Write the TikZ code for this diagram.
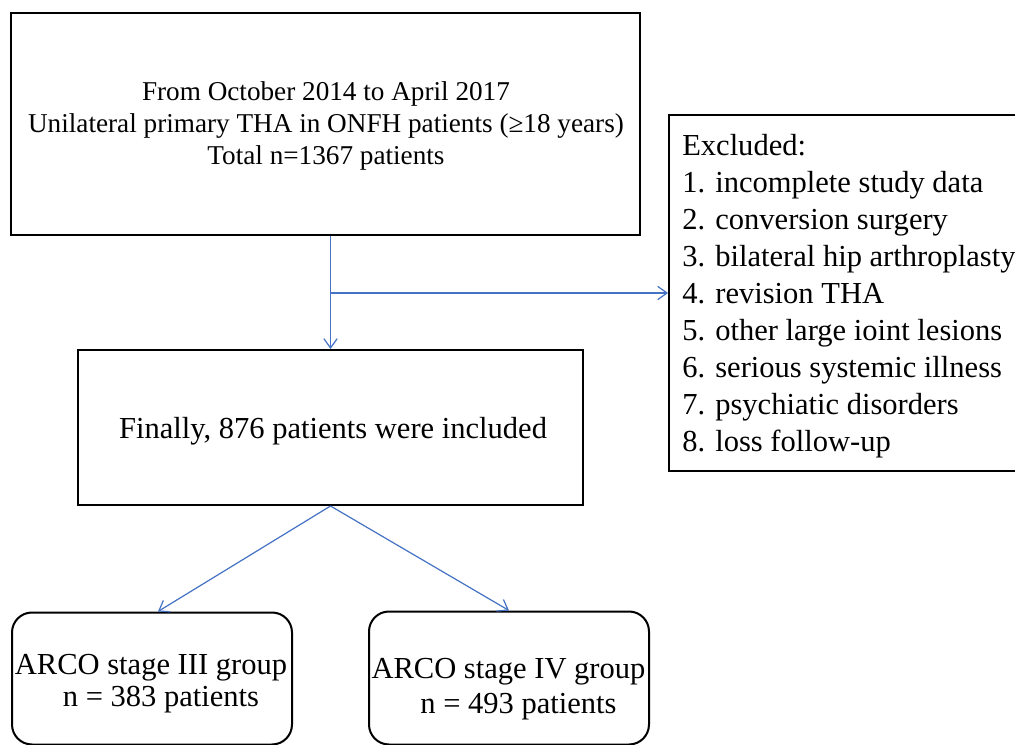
\documentclass[tikz,border=0pt]{standalone}
\usepackage{fontspec}
\setmainfont{Liberation Serif}
\usetikzlibrary{arrows.meta}
\definecolor{arrowblue}{RGB}{68,114,196}
\tikzset{
  box/.style={draw=black, line width=1.5pt, rectangle, inner sep=0pt},
  rbox/.style={box, rounded corners=15pt},
  txt/.style={inner sep=0pt, align=center, text=black},
  conn/.style={draw=arrowblue, line width=0.9pt, -{Straight Barb[length=7pt,width=10pt,line width=0.9pt]}},
  plainconn/.style={draw=arrowblue, line width=0.9pt}
}
\begin{document}
\begin{tikzpicture}[x=0.75pt,y=-0.75pt]
\useasboundingbox (0,0) rectangle (1015,745);
\clip (0,0) rectangle (1015,745);
\fill[white] (0,0) rectangle (1015,745);

% boxes
\node[box, minimum width=471.75pt, minimum height=166.5pt] (top) at (325.5,124) {};
\node[box, minimum width=378.75pt, minimum height=116.25pt] (mid) at (330.5,427.5) {};
\node[box, minimum width=270.75pt, minimum height=267pt] (excl) at (849.5,293) {};
\node[rbox, minimum width=210pt, minimum height=99pt] (g3) at (152,678.5) {};
\node[rbox, minimum width=210pt, minimum height=99.75pt] (g4) at (509,678) {};

% texts
\node[txt, font=\fontsize{20.4pt}{24pt}\selectfont] (toptxt) at (326,125.5)
  {From October 2014 to April 2017\\Unilateral primary THA in ONFH patients (≥18 years)\\Total n=1367 patients};
\node[txt, font=\fontsize{22.9pt}{27.75pt}\selectfont] (midtxt) at (333,431)
  {Finally, 876 patients were included};
\node[txt, anchor=west, align=left, font=\fontsize{22.9pt}{27.75pt}\selectfont] (excltxt) at (682,296)
  {Excluded:\\1. incomplete study data\\2. conversion surgery\\3. bilateral hip arthroplasty\\4. revision THA\\5. other large ioint lesions\\6. serious systemic illness\\7. psychiatic disorders\\8. loss follow-up};
\node[txt, font=\fontsize{22.9pt}{24pt}\selectfont] (g3txt) at (151,684)
  {ARCO stage III group\\\hspace*{15pt}n = 383 patients};
\node[txt, font=\fontsize{22.9pt}{26.25pt}\selectfont] (g4txt) at (508.5,689)
  {ARCO stage IV group\\\hspace*{15pt}n = 493 patients};

% connectors
\coordinate (branch) at (mid.north |- excl.west);
\draw[conn] (mid.north |- top.south) -- (mid.north);
\draw[conn] (branch) -- (excl.west);
\draw[conn] (mid.south) -- ([xshift=4.5pt]g3.north);
\draw[conn] (mid.south) -- (g4.north);
\end{tikzpicture}
\end{document}
